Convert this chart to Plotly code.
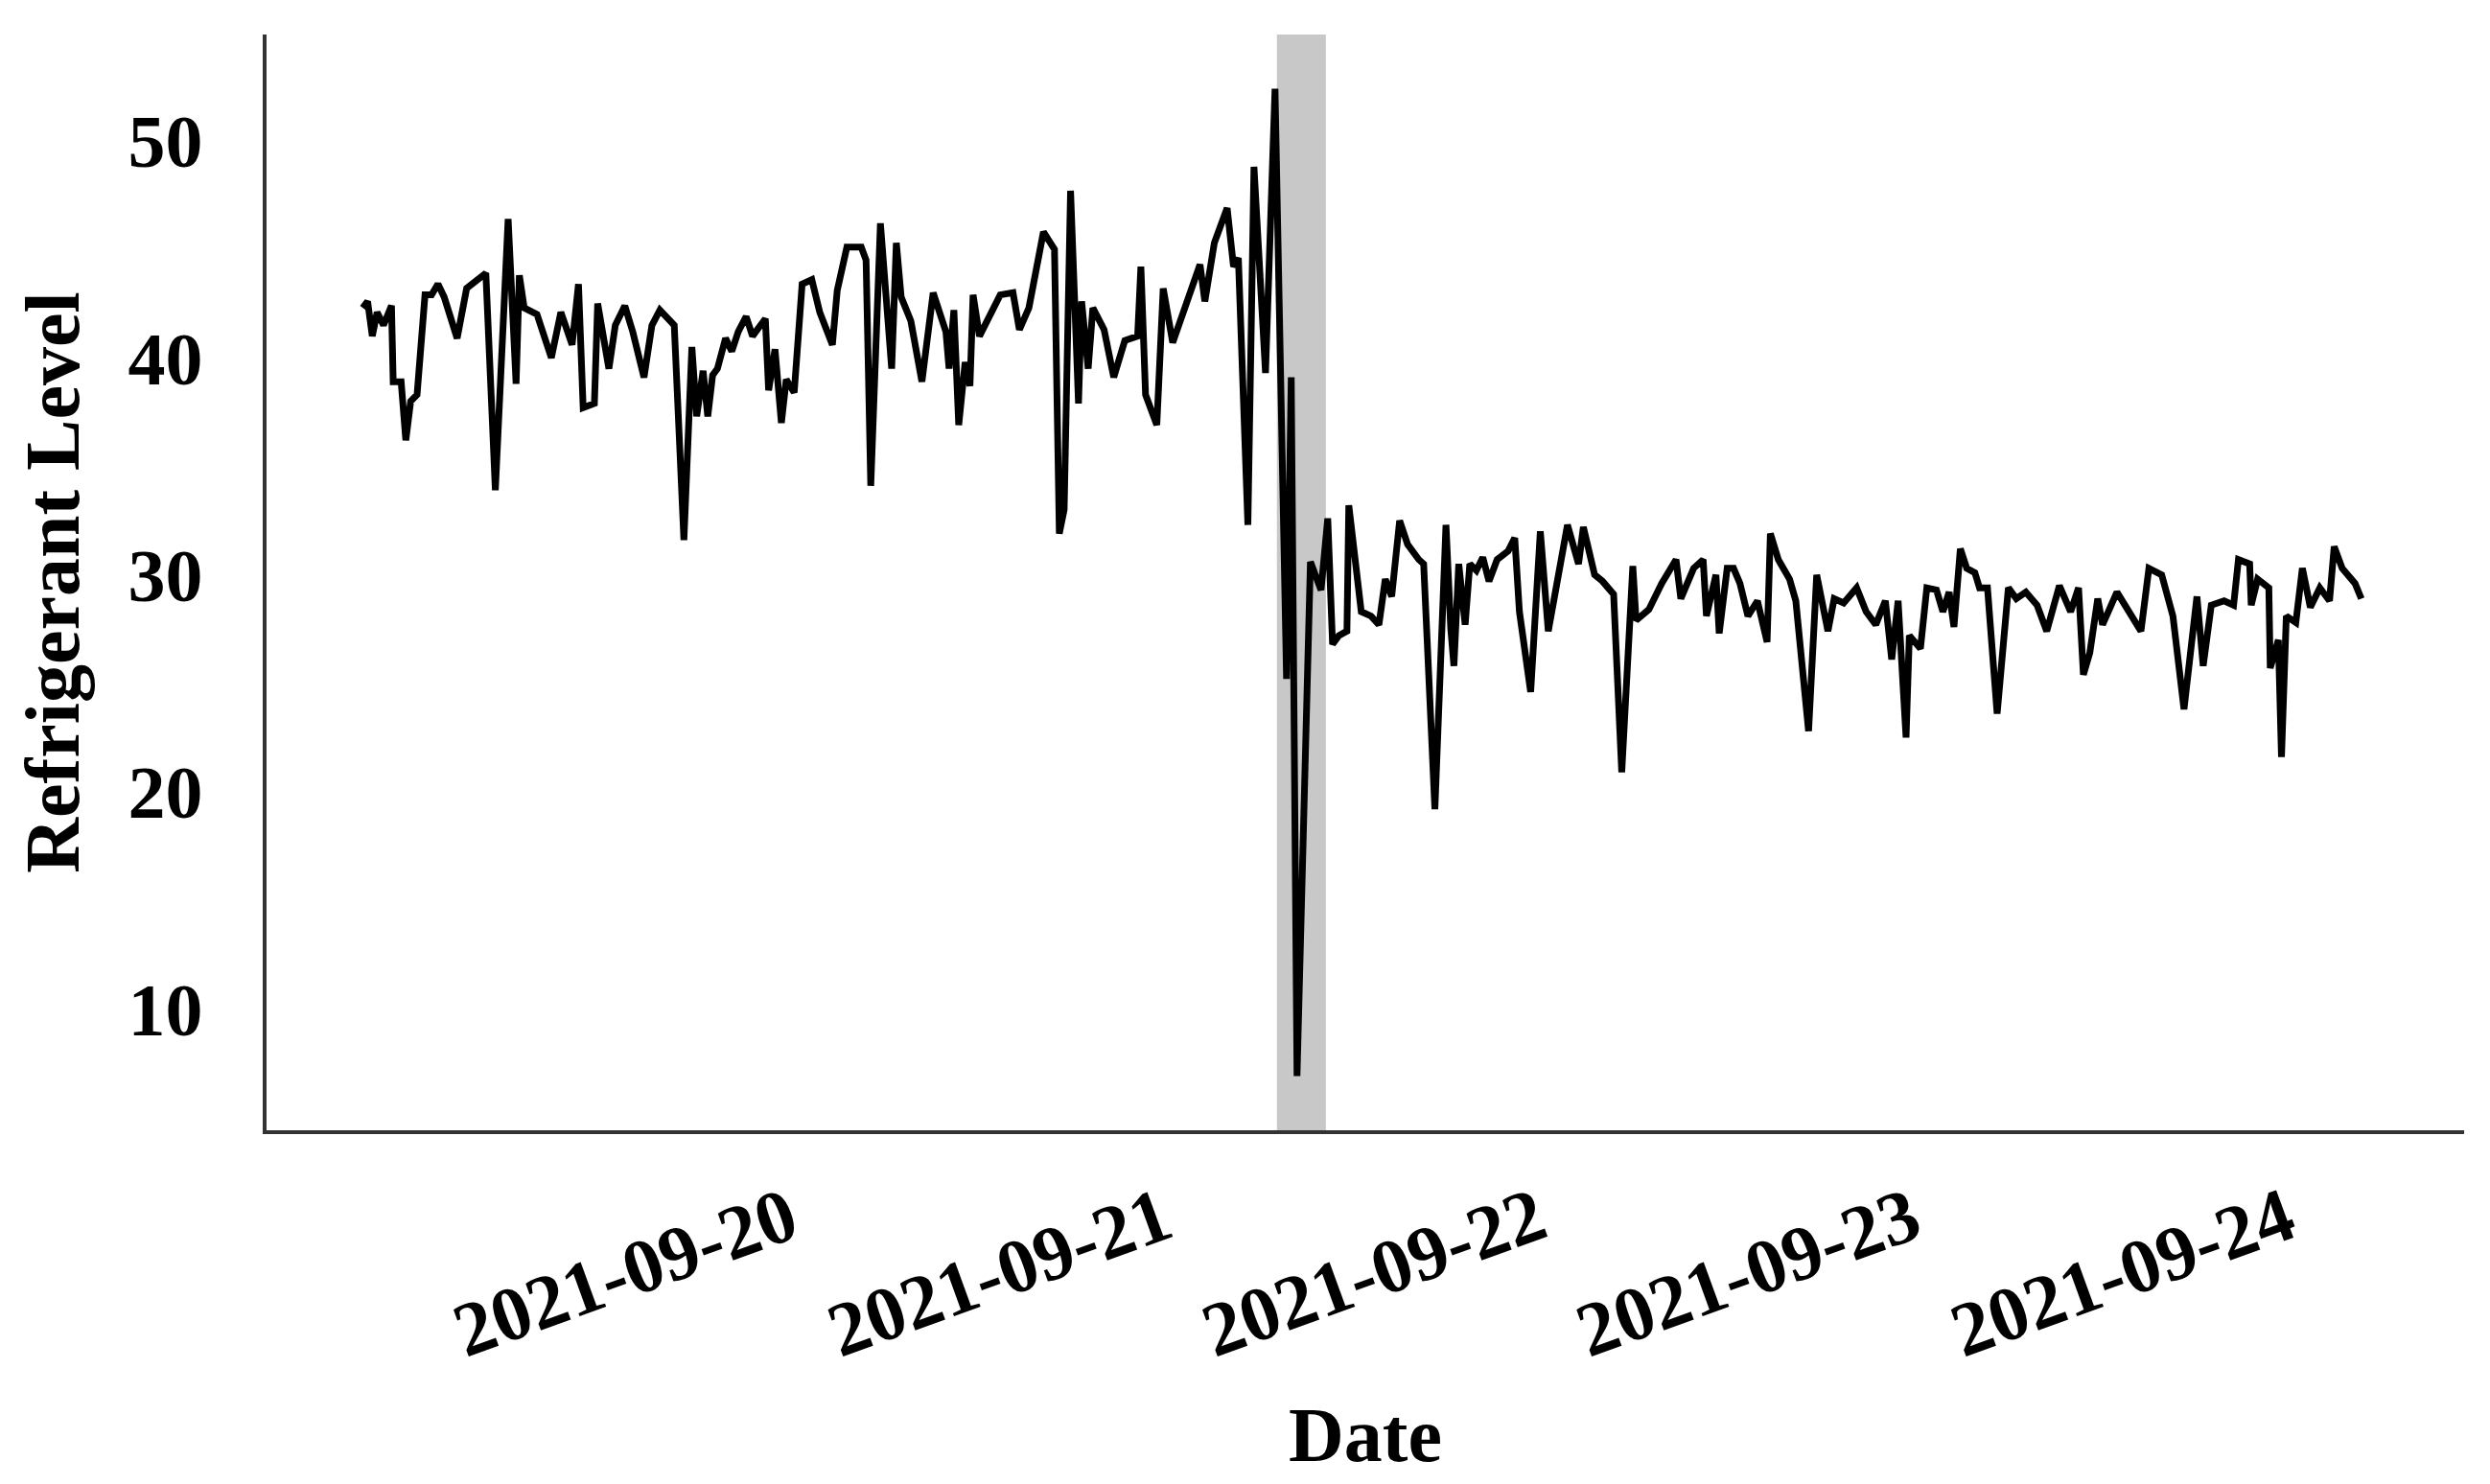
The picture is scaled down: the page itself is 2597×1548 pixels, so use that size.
import plotly.graph_objects as go
import pandas as pd

# hours since 2021-09-18 00:00
hours = [
    20.67, 20.98, 21.28, 21.59, 22.00, 22.51, 22.62, 23.13, 23.43, 23.74,
    24.15, 24.66, 25.08, 25.49, 25.89, 26.72, 27.33, 27.95, 28.56, 29.17,
    29.99, 30.50, 30.71, 31.02, 31.84, 32.76, 33.37, 34.09, 34.50, 34.80,
    35.52, 35.73, 36.45, 36.86, 37.47, 37.98, 38.70, 39.21, 39.72, 40.64,
    41.26, 41.77, 42.08, 42.49, 42.79, 43.10, 43.41, 43.93, 44.33, 44.74,
    45.25, 45.66, 46.48, 46.69, 47.10, 47.51, 47.82, 48.33, 48.84, 49.46,
    49.97, 50.78, 51.09, 51.71, 52.63, 52.94, 53.24, 53.86, 54.58, 54.88,
    55.19, 55.81, 56.52, 57.24, 58.06, 58.26, 58.57, 58.88, 59.29, 59.60,
    59.80, 60.21, 60.93, 61.54, 62.36, 62.77, 63.38, 64.31, 65.02, 65.33,
    65.64, 66.05, 66.56, 66.76, 67.18, 67.48, 68.20, 68.82, 69.53, 70.35,
    70.56, 70.86, 71.58, 71.99, 72.60, 74.35, 74.66, 75.27, 76.09, 76.50,
    76.81, 77.42, 77.81, 78.55, 79.16, 79.90, 80.20, 80.57, 81.43, 82.11,
    82.54, 82.85, 83.26, 83.77, 83.89, 84.69, 85.31, 85.82, 86.23, 86.64,
    87.15, 87.66, 88.38, 88.69, 89.41, 90.12, 90.43, 90.63, 90.94, 91.35,
    91.65, 92.07, 92.48, 92.88, 93.40, 94.11, 94.53, 94.83, 95.55, 95.86,
    96.17, 96.68, 97.91, 98.62, 98.93, 99.65, 100.16, 100.87, 101.39, 102.10,
    102.31, 103.13, 103.95, 104.87, 105.18, 106.00, 106.61, 106.82, 107.43, 107.64,
    108.15, 108.56, 108.97, 109.48, 110.09, 110.71, 110.92, 111.43, 112.15, 112.55,
    113.37, 113.89, 114.61, 115.01, 115.62, 116.45, 117.06, 117.68, 118.29, 118.70,
    119.11, 119.62, 119.83, 120.54, 120.95, 121.57, 121.98, 122.38, 122.69, 123.10,
    123.51, 124.03, 124.33, 124.84, 125.46, 126.18, 126.69, 127.30, 128.02, 128.64,
    129.45, 130.17, 130.68, 130.99, 131.40, 131.91, 132.22, 133.14, 133.86, 134.68,
    135.19, 136.01, 136.73, 137.44, 138.27, 138.67, 139.19, 140.01, 140.62, 140.93,
    141.65, 141.75, 142.16, 142.88, 142.97, 143.49, 143.69, 144.00, 144.61, 145.03,
    145.54, 146.15, 146.77, 147.07, 147.58, 148.41, 148.81,
]

level = [
    42.3, 42.6, 41.0, 42.1, 41.5, 42.4, 38.9, 38.9, 36.2, 38.0,
    38.3, 42.9, 42.9, 43.4, 42.8, 40.9, 43.2, 43.6, 43.9, 33.9,
    46.4, 38.8, 43.8, 42.3, 42.0, 40.0, 42.1, 40.6, 43.4, 37.7,
    37.9, 42.5, 39.5, 41.5, 42.4, 41.2, 39.1, 41.5, 42.2, 41.5,
    31.6, 40.5, 37.3, 39.4, 37.3, 39.2, 39.5, 40.9, 40.3, 41.2,
    41.9, 41.0, 41.8, 38.5, 40.4, 37.0, 39.0, 38.4, 43.4, 43.6,
    42.1, 40.6, 43.1, 45.1, 45.1, 44.5, 34.1, 46.2, 39.5, 45.3,
    42.8, 41.7, 38.9, 43.0, 41.2, 39.5, 42.2, 36.9, 39.8, 38.7,
    42.9, 41.0, 42.1, 42.9, 43.0, 41.3, 42.3, 45.8, 45.0, 31.9,
    33.0, 47.7, 37.9, 42.6, 39.5, 42.3, 41.3, 39.1, 40.8, 41.0,
    44.2, 38.3, 36.9, 43.2, 40.7, 44.3, 42.6, 45.3, 46.9, 44.2,
    44.6, 32.3, 48.8, 39.3, 52.4, 25.2, 39.1, 6.9, 30.6, 29.3,
    32.6, 26.8, 27.2, 27.4, 33.2, 28.3, 28.1, 27.7, 29.8, 29.0,
    32.5, 31.4, 30.7, 30.5, 19.2, 32.3, 27.5, 25.8, 30.5, 27.7,
    30.5, 30.2, 30.8, 29.7, 30.7, 31.1, 31.7, 28.3, 24.6, 28.5,
    32.0, 27.4, 32.3, 30.5, 32.2, 30.0, 29.7, 29.1, 20.9, 30.4,
    27.9, 28.4, 29.6, 30.7, 28.9, 30.3, 30.7, 28.1, 30.0, 27.3,
    30.3, 30.3, 29.6, 28.1, 28.8, 26.9, 31.9, 30.7, 29.8, 28.8,
    22.8, 30.0, 27.4, 28.9, 28.7, 29.4, 28.3, 27.7, 28.8, 26.1,
    28.8, 22.5, 27.2, 26.6, 29.4, 29.3, 28.3, 29.2, 27.6, 31.2,
    30.3, 30.1, 29.4, 29.4, 23.6, 29.4, 28.9, 29.2, 28.6, 27.4,
    29.5, 28.3, 29.4, 25.4, 26.4, 28.9, 27.7, 29.2, 28.3, 27.4,
    30.3, 30.0, 28.1, 23.8, 29.0, 25.8, 28.6, 28.8, 28.6, 30.7,
    30.5, 28.6, 29.8, 29.4, 25.7, 27.0, 21.6, 28.1, 27.8, 30.3,
    28.5, 29.4, 28.8, 31.3, 30.3, 29.6, 28.9,
]

tick_dates = ["2021-09-20", "2021-09-21", "2021-09-22", "2021-09-23", "2021-09-24"]
y_ticks = [10, 20, 30, 40, 50]

# anomaly window, hours since 2021-09-18 00:00
band_start, band_end = 79.28, 82.42

base = pd.Timestamp("2021-09-18")
times = base + pd.to_timedelta(hours, unit="h")

fig = go.Figure()
fig.add_trace(go.Scatter(x=times, y=level, mode="lines",
                         line=dict(color="black", width=7), showlegend=False))

fig.add_vrect(x0=base + pd.Timedelta(hours=band_start), x1=base + pd.Timedelta(hours=band_end),
              fillcolor="#c8c8c8", opacity=1, line_width=0, layer="below")

font_fam = "Liberation Serif, Times New Roman, serif"
fig.update_xaxes(range=[base + pd.Timedelta(hours=14.5), base + pd.Timedelta(hours=155.4)],
                 tickvals=pd.to_datetime(tick_dates), ticktext=tick_dates, tickangle=-20,
                 tickfont=dict(family=font_fam, size=80, color="black", weight="bold"),
                 ticks="", ticklabelstandoff=12,
                 showline=True, linecolor="#333333", linewidth=4, showgrid=False, zeroline=False,
                 title=dict(text="Date", font=dict(family=font_fam, size=80, color="black", weight="bold"),
                            standoff=38))
fig.update_yaxes(range=[4.4, 54.9], tickvals=y_ticks,
                 tickfont=dict(family=font_fam, size=78, color="black", weight="bold"),
                 ticks="", ticklabelstandoff=47,
                 showline=True, linecolor="#333333", linewidth=4, showgrid=False, zeroline=False,
                 title=dict(text="Refrigerant Level", font=dict(family=font_fam, size=80, color="black", weight="bold"),
                            standoff=25))

# page body adds an 8px offset, so the figure is 8px smaller and margins shifted
fig.update_layout(width=2589, height=1540, plot_bgcolor="white", paper_bgcolor="white",
                  margin=dict(l=270, r=27, t=28, b=369, autoexpand=False))

fig.write_html("out.html")
